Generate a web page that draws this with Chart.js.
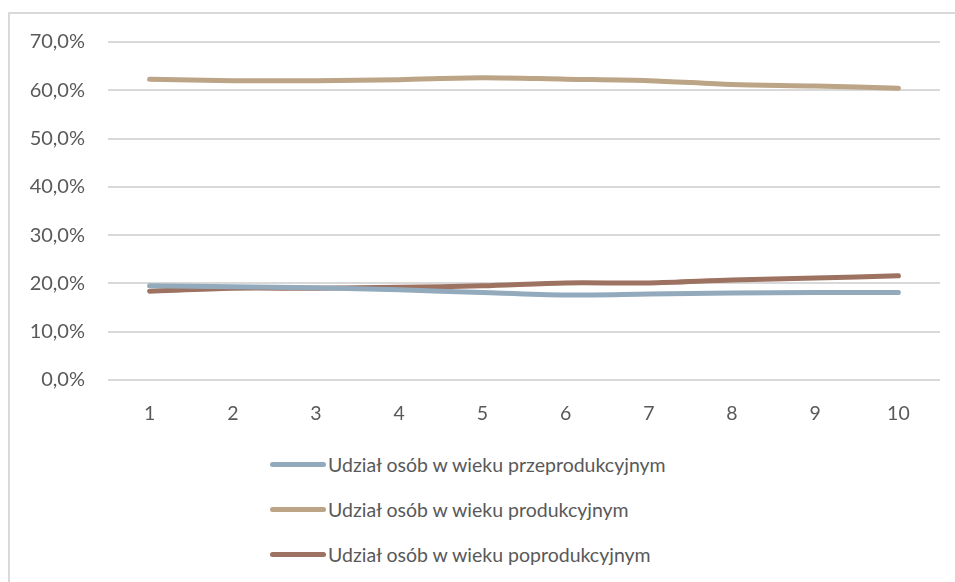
<!DOCTYPE html>
<html>
<head>
<meta charset="utf-8">
<script src="https://cdn.jsdelivr.net/npm/chart.js@4/dist/chart.umd.min.js"></script>
<style>
  html, body { margin: 0; padding: 0; background: #fff; }
  #wrap { position: relative; width: 955px; height: 582px; overflow: hidden; font-family: Lato, "Open Sans", sans-serif; }
  #frame { position: absolute; left: 8px; top: 12px; width: 1000px; height: 600px; border-left: 2px solid #d9d9d9; border-top: 2px solid #d9d9d9; }
  #chartBox { position: absolute; left: 0; top: 0; width: 955px; height: 440px; }
  #legend { position: absolute; left: 270px; top: 442px; }
  .item { display: flex; align-items: center; height: 45px; color: #595959; font-size: 19.5px; }
  .swatch { width: 56px; height: 5px; border-radius: 3px; margin-right: 2px; }
</style>
</head>
<body>
<div id="wrap">
  <div id="frame"></div>
  <div id="chartBox"><canvas id="lineChart"></canvas></div>
  <div id="legend"></div>
</div>
<script>
const categories = ['1', '2', '3', '4', '5', '6', '7', '8', '9', '10'];
const preProductive = [0.195, 0.193, 0.191, 0.187, 0.181, 0.176, 0.178, 0.180, 0.181, 0.181];
const productive = [0.623, 0.620, 0.620, 0.622, 0.626, 0.623, 0.620, 0.612, 0.609, 0.604];
const postProductive = [0.184, 0.190, 0.190, 0.192, 0.195, 0.201, 0.201, 0.207, 0.211, 0.216];
const seriesNames = [
    'Udział osób w wieku przeprodukcyjnym',
    'Udział osób w wieku produkcyjnym',
    'Udział osób w wieku poprodukcyjnym'
];
const seriesColors = ['#92aabb', '#bca486', '#9d7261'];

document.addEventListener('DOMContentLoaded', () => {
    const ctx = document.getElementById('lineChart');
    const seriesData = [preProductive, productive, postProductive];

    const datasets = seriesData.map((values, i) => ({
        label: seriesNames[i],
        data: values,
        borderColor: seriesColors[i],
        backgroundColor: seriesColors[i],
        borderWidth: 5,
        borderCapStyle: 'round',
        borderJoinStyle: 'round',
        tension: 0.3,
        pointRadius: 0,
        fill: false
    }));

    const chart = new Chart(ctx, {
        type: 'line',
        data: { labels: categories, datasets: datasets },
        options: {
            responsive: true,
            maintainAspectRatio: false,
            animation: false,
            layout: { padding: { top: 42, right: 15, left: 0, bottom: 0 } },
            plugins: {
                legend: { display: false },
                tooltip: { enabled: false }
            },
            scales: {
                x: {
                    offset: true,
                    grid: { display: false },
                    border: { display: false },
                    ticks: {
                        color: '#595959',
                        font: { family: 'Lato', size: 19.5 },
                        padding: 14
                    },
                    afterFit: (scale) => { scale.height = 60; }
                },
                y: {
                    min: 0,
                    max: 0.7,
                    grid: { color: '#d9d9d9', lineWidth: 2, drawTicks: false },
                    border: { display: false },
                    ticks: {
                        stepSize: 0.1,
                        color: '#595959',
                        font: { family: 'Lato', size: 20 },
                        padding: 23,
                        callback: function(value) {
                            return (value * 100).toFixed(1).replace('.', ',') + '%';
                        }
                    },
                    afterFit: (scale) => { scale.width = 108; }
                }
            }
        }
    });

    // legend in a column below the chart
    const legendBox = document.getElementById('legend');
    chart.data.datasets.forEach(ds => {
        const row = document.createElement('div');
        row.className = 'item';
        const sw = document.createElement('span');
        sw.className = 'swatch';
        sw.style.background = ds.borderColor;
        const txt = document.createElement('span');
        txt.textContent = ds.label;
        row.appendChild(sw);
        row.appendChild(txt);
        legendBox.appendChild(row);
    });
});
</script>
</body>
</html>
